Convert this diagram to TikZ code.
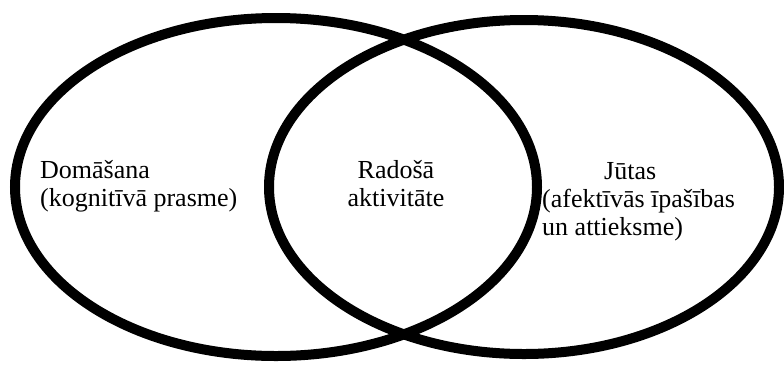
\documentclass[tikz,border=0pt]{standalone}
\usepackage{fontspec}
\setmainfont{Liberation Serif}
\newfontfamily\lblfont{Liberation Serif}
\usepackage{tikz}
\usetikzlibrary{positioning}

\tikzset{
  venn/.style={black,line width=10pt},
  lbl/.style={inner sep=0pt,font=\lblfont\fontsize{26}{28}\selectfont}
}

\begin{document}
\begin{tikzpicture}[x=1pt,y=-1pt]
        \useasboundingbox (0,0) rectangle (784,365);
        % two overlapping sets
        \draw[venn] (276,187) ellipse [x radius=261,y radius=169];
        \draw[venn] (524,187) ellipse [x radius=255,y radius=167];
        % labels
        \node[lbl,anchor=north west,align=left] (think) at (40,160)
          {Domāšana\\(kognitīvā prasme)};
        \node[lbl,anchor=north,align=center] (create) at (396,160)
          {Radošā\\aktivitāte};
        \node[lbl,anchor=north west,align=left] (feel) at (542,162)
          {\hspace*{62pt}Jūtas\\(afektīvās īpašības\\un attieksme)};
      \end{tikzpicture}
\end{document}
